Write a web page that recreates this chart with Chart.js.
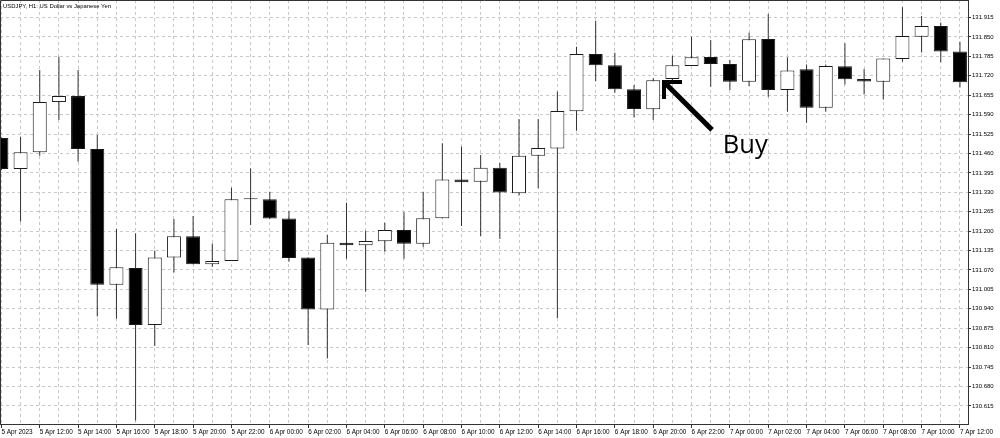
<!DOCTYPE html>
<html>
<head>
<meta charset="utf-8">
<script src="https://cdn.jsdelivr.net/npm/chart.js@4.4.0/dist/chart.umd.min.js"></script>
<style>
html,body{margin:0;padding:0;background:#fff;}
#wrap{width:1000px;height:438px;position:relative;overflow:hidden;}
canvas{display:block;}
</style>
</head>
<body>
<div id="wrap"><canvas id="c" width="1000" height="438"></canvas></div>
<script>
const chartTitle = "USDJPY, H1: US Dollar vs Japanese Yen";
const annotationText = "Buy";

const categories = [
  "5 Apr 2023","5 Apr 11:00","5 Apr 12:00","5 Apr 13:00","5 Apr 14:00","5 Apr 15:00","5 Apr 16:00","5 Apr 17:00",
  "5 Apr 18:00","5 Apr 19:00","5 Apr 20:00","5 Apr 21:00","5 Apr 22:00","5 Apr 23:00",
  "6 Apr 00:00","6 Apr 01:00","6 Apr 02:00","6 Apr 03:00","6 Apr 04:00","6 Apr 05:00","6 Apr 06:00","6 Apr 07:00",
  "6 Apr 08:00","6 Apr 09:00","6 Apr 10:00","6 Apr 11:00","6 Apr 12:00","6 Apr 13:00","6 Apr 14:00","6 Apr 15:00",
  "6 Apr 16:00","6 Apr 17:00","6 Apr 18:00","6 Apr 19:00","6 Apr 20:00","6 Apr 21:00","6 Apr 22:00","6 Apr 23:00",
  "7 Apr 00:00","7 Apr 01:00","7 Apr 02:00","7 Apr 03:00","7 Apr 04:00","7 Apr 05:00","7 Apr 06:00","7 Apr 07:00",
  "7 Apr 08:00","7 Apr 09:00","7 Apr 10:00","7 Apr 11:00","7 Apr 12:00"
];

const opens  = [131.512,131.408,131.464,131.632,131.652,131.475,131.021,131.077,130.886,131.112,131.183,131.089,131.100,131.307,131.307,131.242,131.112,130.938,131.161,131.153,131.166,131.204,131.158,131.243,131.373,131.365,131.412,131.327,131.452,131.477,131.601,131.793,131.755,131.675,131.608,131.709,131.753,131.783,131.759,131.700,131.843,131.672,131.742,131.613,131.752,131.709,131.700,131.776,131.851,131.887,131.801];
const highs  = [131.514,131.516,131.739,131.784,131.739,131.522,131.207,131.193,131.135,131.241,131.251,131.159,131.345,131.410,131.332,131.267,131.112,131.187,131.295,131.201,131.228,131.263,131.332,131.494,131.483,131.455,131.428,131.575,131.575,131.667,131.817,131.903,131.797,131.689,131.712,131.787,131.851,131.840,131.773,131.864,131.927,131.782,131.758,131.758,131.829,131.743,131.778,131.949,131.920,131.898,131.834];
const lows   = [131.405,131.232,131.452,131.572,131.432,130.914,130.907,130.566,130.816,131.062,131.089,131.081,131.100,131.221,131.241,131.098,130.819,130.774,131.108,130.997,131.131,131.108,131.148,131.243,131.217,131.184,131.174,131.319,131.344,130.909,131.536,131.702,131.663,131.580,131.572,131.705,131.753,131.683,131.672,131.686,131.650,131.600,131.563,131.600,131.691,131.657,131.641,131.767,131.798,131.765,131.681];
const closes = [131.408,131.464,131.632,131.652,131.475,131.021,131.079,130.886,131.112,131.183,131.089,131.100,131.307,131.307,131.242,131.110,130.938,131.161,131.153,131.167,131.204,131.158,131.243,131.373,131.364,131.412,131.329,131.452,131.478,131.602,131.793,131.755,131.675,131.609,131.705,131.755,131.782,131.759,131.700,131.842,131.672,131.738,131.613,131.753,131.708,131.701,131.778,131.853,131.887,131.801,131.698];

const yTicks = [131.915,131.850,131.785,131.720,131.655,131.590,131.525,131.460,131.395,131.330,131.265,131.200,131.135,131.070,131.005,130.940,130.875,130.810,130.745,130.680,130.615];

// annotation anchors in data units (candle index, price)
const arrowTip  = [34.46, 131.706];
const arrowTail = [37.07, 131.539];
const buyAnchor = [37.63, 131.4615];

const xFont = {family: "'Liberation Sans', Arial, sans-serif", size: 6.4};
const yFont = {family: "'Liberation Sans', Arial, sans-serif", size: 6};

const bodyData = categories.map((c, i) => ({x: i, y: [Math.min(opens[i], closes[i]), Math.max(opens[i], closes[i])]}));
const wickData = categories.map((c, i) => ({x: i, y: [lows[i], highs[i]]}));
const bodyColors = categories.map((c, i) => closes[i] > opens[i] ? '#ffffff' : '#000000');

const overlay = {
  id: 'overlay',
  beforeDraw(chart) {
    const ctx = chart.ctx;
    ctx.save();
    ctx.fillStyle = '#fff';
    ctx.fillRect(0, 0, chart.width, chart.height);
    ctx.restore();
  },
  afterDatasetsDraw(chart) {
    const {ctx, chartArea: a, scales: {x, y}} = chart;
    ctx.save();
    // frame (left and top)
    ctx.strokeStyle = '#333';
    ctx.lineWidth = 1;
    ctx.beginPath();
    ctx.moveTo(a.left + 0.5, a.bottom);
    ctx.lineTo(a.left + 0.5, a.top + 0.5);
    ctx.lineTo(a.right, a.top + 0.5);
    ctx.stroke();
    // arrow
    const tx = Math.round(x.getPixelForValue(arrowTip[0]));
    const ty = Math.round(y.getPixelForValue(arrowTip[1]));
    const ex = x.getPixelForValue(arrowTail[0]);
    const ey = y.getPixelForValue(arrowTail[1]);
    ctx.fillStyle = '#000';
    ctx.strokeStyle = '#000';
    ctx.fillRect(tx, ty, 20, 4);
    ctx.fillRect(tx, ty, 4, 19);
    ctx.lineWidth = 5;
    ctx.lineCap = 'butt';
    ctx.beginPath();
    ctx.moveTo(tx + 2, ty + 2);
    ctx.lineTo(ex, ey);
    ctx.stroke();
    // Buy label
    ctx.font = "25.5px 'Open Sans', 'Liberation Sans', sans-serif";
    ctx.textBaseline = 'alphabetic';
    ctx.textAlign = 'left';
    ctx.fillText(annotationText, x.getPixelForValue(buyAnchor[0]), y.getPixelForValue(buyAnchor[1]));
    // title
    ctx.font = "5.9px 'Liberation Sans', Arial, sans-serif";
    ctx.textBaseline = 'top';
    ctx.fillText(chartTitle, a.left + 3, a.top + 3.5);
    ctx.restore();
  }
};

new Chart(document.getElementById('c'), {
  type: 'bar',
  data: {
    datasets: [
      {
        label: 'body',
        data: bodyData,
        backgroundColor: bodyColors,
        borderColor: '#1a1a1a',
        borderWidth: 1,
        borderSkipped: false,
        barPercentage: 0.74,
        categoryPercentage: 1,
        maxBarThickness: 14,
        minBarLength: 1,
        grouped: false,
        order: 1
      },
      {
        label: 'wick',
        data: wickData,
        backgroundColor: '#2a2a2a',
        borderWidth: 0,
        barPercentage: 0.05,
        categoryPercentage: 1,
        maxBarThickness: 1,
        grouped: false,
        order: 2
      }
    ]
  },
  options: {
    responsive: false,
    animation: false,
    devicePixelRatio: 1,
    layout: {padding: {left: 0, top: 0, right: 0, bottom: 0}},
    plugins: {legend: {display: false}, tooltip: {enabled: false}, title: {display: false}},
    scales: {
      x: {
        type: 'linear',
        offset: false,
        bounds: 'data',
        min: -0.073,
        max: 50.42,
        afterBuildTicks: (scale) => { scale.ticks = categories.map((c, i) => ({value: i})); },
        afterFit: (scale) => {
          scale.height = 14;
          scale.paddingLeft = 0; scale.paddingRight = 0;
          scale.paddingTop = 0; scale.paddingBottom = 0;
        },
        grid: {
          offset: false,
          color: '#c8c8c8',
          borderDash: [3, 3],
          drawTicks: true,
          tickLength: 4,
          tickColor: (ctx) => (ctx.index % 2 === 0 ? '#333' : 'rgba(0,0,0,0)'),
          tickBorderDash: []
        },
        border: {display: true, color: '#333', width: 1, dash: [3, 3]},
        ticks: {
          autoSkip: false,
          maxRotation: 0,
          minRotation: 0,
          align: 'start',
          padding: 0,
          color: '#000',
          font: xFont,
          callback: (v, i) => (i % 2 === 0 ? categories[i] : '')
        }
      },
      y: {
        type: 'linear',
        position: 'right',
        bounds: 'data',
        min: 130.5546,
        max: 131.9736,
        afterBuildTicks: (scale) => { scale.ticks = yTicks.map(v => ({value: v})); },
        afterFit: (scale) => {
          scale.width = 32;
          scale.paddingLeft = 0; scale.paddingRight = 0;
          scale.paddingTop = 0; scale.paddingBottom = 0;
        },
        grid: {
          color: '#c8c8c8',
          borderDash: [3, 3],
          drawTicks: true,
          tickLength: 3,
          tickColor: '#333',
          tickBorderDash: []
        },
        border: {display: true, color: '#333', width: 1, dash: [3, 3]},
        ticks: {
          padding: 1,
          color: '#000',
          font: yFont,
          callback: (v) => Number(v).toFixed(3)
        }
      }
    }
  },
  plugins: [overlay]
});
</script>
</body>
</html>
